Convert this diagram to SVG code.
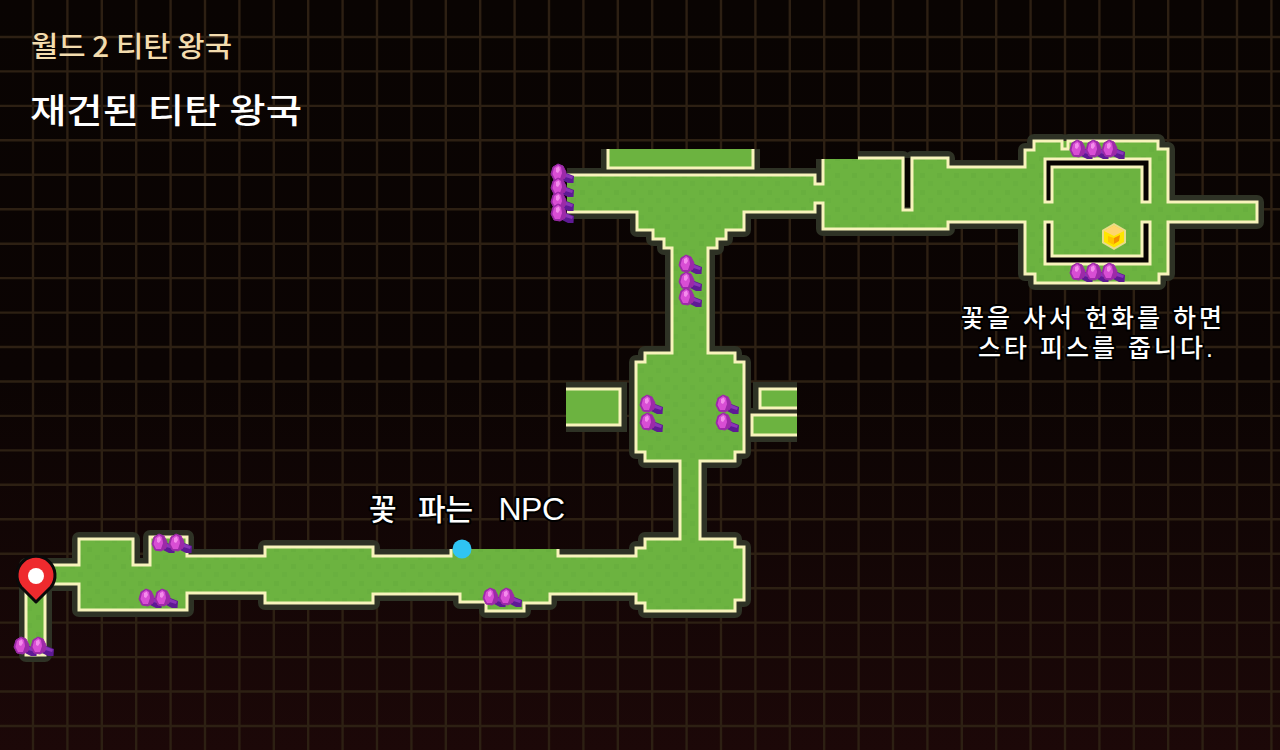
<svg xmlns="http://www.w3.org/2000/svg" width="1280" height="750" viewBox="0 0 1280 750">
<style>
.grid{fill:none;stroke:#2d2013;stroke-width:2.4}
.halo{fill:none;stroke:#2e3225;stroke-width:14;stroke-linejoin:round}
.haloM{fill:none;stroke:#2e3225;stroke-width:14;stroke-linejoin:miter}
.fill{fill:#6cb340;stroke:none}
.edge{fill:none;stroke:#f8f3bc;stroke-width:3;stroke-linejoin:miter}
.hole{fill:#080402;stroke:#f8f3bc;stroke-width:3}
.ttl{font-family:"Noto Sans CJK KR","Noto Sans",sans-serif}
.lbl{font-family:"Liberation Sans","Noto Sans CJK KR",sans-serif;font-weight:500;fill:#fff;stroke:#000;stroke-width:4;paint-order:stroke;stroke-linejoin:round}
</style>
<defs>
<linearGradient id="bg" x1="0" y1="0" x2="0" y2="1">
<stop offset="0" stop-color="#090402"/><stop offset="0.5" stop-color="#0b0403"/><stop offset="1" stop-color="#1c0808"/>
</linearGradient>
<pattern id="tex" width="17" height="17" patternUnits="userSpaceOnUse">
<rect x="2" y="3" width="5" height="5" fill="#5fa63a" opacity="0.3"/>
<rect x="10" y="11" width="5" height="5" fill="#5fa63a" opacity="0.2"/>
</pattern>
<g id="fl">
<polygon points="2,-2 15,3 14.500,10 9,10 -1,5" fill="#5e1a94"/>
<polygon points="3,-1 14,3.500 13,6 3,3" fill="#8a35b8"/>
<path d="M-6,-6 L-1,-9 L4,-7 L7,-1 L6,5 L1,8 L-5,7 L-8,1 Z" fill="#9c2aa8" stroke="#9c2aa8" stroke-width="1" stroke-linejoin="round"/>
<path d="M-5,-5 L-1,-8 L2,-6 L3,0 L1,6 L-4,6 L-6.500,1 Z" fill="#d84ed4"/>
<path d="M-3,-5 L0,-6.500 L1,-3 L-1,0 L-3,-1 Z" fill="#f48cec"/>
</g>
<path id="mainFill" d="M79,539 H133 V565 H150 V537 H187 V556 H265 V547 H373 V556 H451 V549 H558 V556 H636 V548 H645 V539 H680 V461 H645 V452 H636 V362 H645 V353 H672 V248 H664 V239 H653 V230 H637 V212 H567 V175 H815 V184 H823 V159 H903 V210 H912 V158 H948 V167 H1025 V150 H1034 V141 H1158 V149 H1168 V202 H1257 V222 H1168 V274 H1159 V283 H1035 V274 H1025 V222 H948 V229 H823 V203 H815 V212 H744 V230 H726 V239 H717 V248 H708 V353 H735 V362 H744 V452 H735 V461 H700 V539 H735 V547 H744 V600 H735 V611 H645 V603 H636 V594 H550 V603 H524 V611 H486 V602 H460 V594 H373 V603 H265 V593 H187 V610 H79 V584 H45 V655 H26 V565 H79 Z"/>
<path id="mainEdge" d="M558,549 V556 H636 V548 H645 V539 H680 V461 H645 V452 H636 V362 H645 V353 H672 V248 H664 V239 H653 V230 H637 V212 H567 M567,175 H815 V184 H823 V159 M858,158 H903 V210 H912 V158 H948 V167 H1025 V150 H1034 V141 H1062 V149 H1068 V141 H1158 V149 H1168 V202 H1257 V222 H1168 V274 H1159 V283 H1035 V274 H1025 V222 H948 V229 H823 V203 H815 V212 H744 V230 H726 V239 H717 V248 H708 V353 H735 V362 H744 V452 H735 V461 H700 V539 H735 V547 H744 V600 H735 V611 H645 V603 H636 V594 H550 V603 H524 V611 H486 V602 H460 V594 H373 V603 H265 V593 H187 V610 H79 V584 H45 V655 H26 V565 H79 V539 H133 V565 H150 V537 H187 V556 H265 V547 H373 V556 H451 V549"/>
</defs>

<rect id="background" width="1280" height="750" fill="url(#bg)"/>
<path id="grid" class="grid" d="M33,0V750M67.4,0V750M101.8,0V750M136.2,0V750M170.6,0V750M205,0V750M239.4,0V750M273.8,0V750M308.2,0V750M342.6,0V750M377,0V750M411.4,0V750M445.8,0V750M480.2,0V750M514.6,0V750M549,0V750M583.4,0V750M617.8,0V750M652.2,0V750M686.6,0V750M721,0V750M755.4,0V750M789.8,0V750M824.2,0V750M858.6,0V750M893,0V750M927.4,0V750M961.8,0V750M996.2,0V750M1030.6,0V750M1065,0V750M1099.4,0V750M1133.8,0V750M1168.2,0V750M1202.6,0V750M1237,0V750M1271.4,0V750
M0,37H1280M0,71.4H1280M0,105.9H1280M0,140.3H1280M0,174.8H1280M0,209.2H1280M0,243.7H1280M0,278.1H1280M0,312.6H1280M0,347H1280M0,381.5H1280M0,415.9H1280M0,450.4H1280M0,484.8H1280M0,519.3H1280M0,553.7H1280M0,588.2H1280M0,622.6H1280M0,657.1H1280M0,691.5H1280M0,726H1280"/>

<g id="map">
<g id="halos">
<use href="#mainEdge" class="halo"/>
<path class="haloM" d="M608,149 V168 H753 V149"/>
<path class="haloM" d="M566,389 H620 V425 H566"/>
<path class="haloM" d="M797,389 H760 V408 H797"/>
<path class="haloM" d="M797,415 H752 V435 H797"/>
</g>
<g id="main-floor">
<use href="#mainFill" class="fill"/>
<use href="#mainFill" fill="url(#tex)"/>
<path d="M907.5,158 V207" stroke="#080402" stroke-width="5" fill="none"/>
<use href="#mainEdge" class="edge"/>
</g>
<g id="top-room">
<path class="fill" d="M608,149 V168 H753 V149 Z"/>
<path class="edge" d="M608,149 V168 H753 V149"/>
</g>
<g id="side-left">
<path class="fill" d="M566,389 H620 V425 H566 Z"/>
<path class="edge" d="M566,389 H620 V425 H566"/>
</g>
<g id="side-right-1">
<path class="fill" d="M797,389 H760 V408 H797 Z"/>
<path class="edge" d="M797,389 H760 V408 H797"/>
</g>
<g id="side-right-2">
<path class="fill" d="M797,415 H752 V435 H797 Z"/>
<path class="edge" d="M797,415 H752 V435 H797"/>
</g>
<g id="ring">
<path class="hole" d="M1045,159 H1150 V202 H1142 V167 H1052 V202 H1045 Z"/>
<path class="hole" d="M1045,222 V264 H1150 V222 H1142 V256 H1052 V222 Z"/>
</g>
</g>

<g id="flowers" transform="translate(1,0)">
<use href="#fl" x="21" y="646"/><use href="#fl" x="38" y="646"/>
<use href="#fl" x="159" y="543"/><use href="#fl" x="176" y="543"/>
<use href="#fl" x="146" y="598"/><use href="#fl" x="162" y="598"/>
<use href="#fl" x="490" y="597"/><use href="#fl" x="506" y="597"/>
<use href="#fl" x="647" y="404"/><use href="#fl" x="647" y="422"/>
<use href="#fl" x="723" y="404"/><use href="#fl" x="723" y="422"/>
<use href="#fl" x="686" y="264"/><use href="#fl" x="686" y="281"/><use href="#fl" x="686" y="297"/>
<use href="#fl" x="558" y="173"/><use href="#fl" x="558" y="187"/><use href="#fl" x="558" y="201"/><use href="#fl" x="558" y="213"/>
<use href="#fl" x="1077" y="149"/><use href="#fl" x="1093" y="149"/><use href="#fl" x="1109" y="149"/>
<use href="#fl" x="1077" y="272"/><use href="#fl" x="1093" y="272"/><use href="#fl" x="1109" y="272"/>
</g>

<g id="start-pin">
<path d="M36,602 L21,587 A19,19 0 1 1 51,587 Z" fill="#ee2a2e" stroke="#0a0a0a" stroke-width="3" stroke-linejoin="round"/>
<circle cx="36" cy="576" r="8" fill="#fff"/>
</g>

<g id="npc-dot"><circle cx="462" cy="549" r="9.5" fill="#2fc4f2"/></g>

<g id="star-piece">
<polygon points="1114,223 1126,230 1126,243 1114,250 1102,243 1102,230" fill="#e9dc8a"/>
<polygon points="1114,225.500 1124,231 1124,242 1114,247.500 1104,242 1104,231" fill="#ffe600"/>
<polygon points="1114,225.500 1124,231 1114,236 1104,231" fill="#ffd66e"/>
<polygon points="1108,236 1114,238 1114,245 1108,242" fill="#ffc400"/>
<polygon points="1114,238 1120,235 1119,241 1114,244" fill="#f59000"/>
</g>

<g id="titles">
<text class="ttl" x="31" y="57" font-size="28" font-weight="500" fill="#f3dcae" textLength="201" lengthAdjust="spacingAndGlyphs">월드 2 티탄 왕국</text>
<text class="ttl" x="30" y="123" font-size="34" font-weight="500" fill="#fff" textLength="272" lengthAdjust="spacingAndGlyphs">재건된 티탄 왕국</text>
</g>
<g id="labels">
<text class="lbl" x="369" y="520" font-size="30" word-spacing="13">꽃 파는 <tspan dx="4" font-size="32" letter-spacing="-0.500">NPC</tspan></text>
<text class="lbl" x="961" y="327" font-size="25" textLength="261" lengthAdjust="spacing">꽃을 사서 헌화를 하면</text>
<text class="lbl" x="978" y="357" font-size="25" textLength="235" lengthAdjust="spacing">스타 피스를 줍니다.</text>
</g>
</svg>
